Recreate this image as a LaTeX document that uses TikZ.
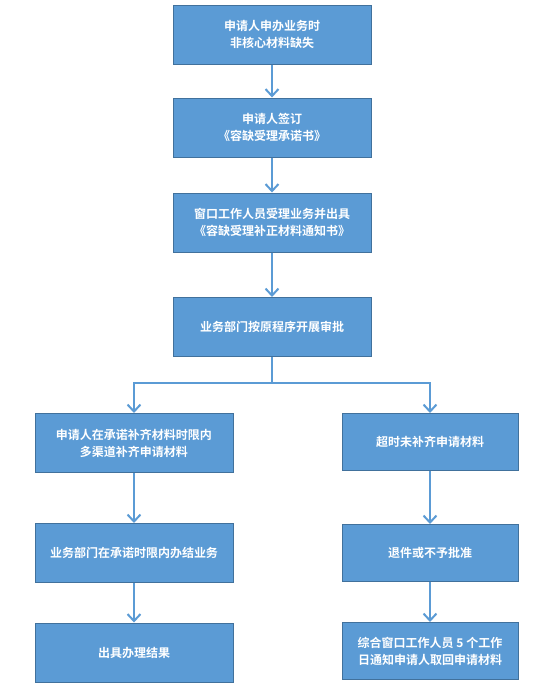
\documentclass[tikz,border=0pt]{standalone}
\usepackage{fontspec}
\setmainfont{Noto Sans CJK SC}[BoldFont={Noto Sans CJK SC Bold}]
\usetikzlibrary{arrows.meta}
\definecolor{boxfill}{HTML}{5B9BD5}
\definecolor{boxline}{HTML}{41719C}
\definecolor{arr}{HTML}{5B9BD5}
\tikzset{
  box/.style={draw=boxline, line width=1pt, fill=boxfill, text=white, font=\fontsize{12}{17}\selectfont\bfseries, align=center, inner sep=0pt},
  wide/.style={box, minimum width=198pt, minimum height=59pt},
  narrow/.style={box, minimum width=176pt, minimum height=57pt},
  link/.style={draw=arr, line width=2.2pt, -{Straight Barb[length=7pt,width=13pt,line width=2pt]}}
}
\begin{document}
\begin{tikzpicture}[x=1pt,y=-1pt]
\useasboundingbox (0,0) rectangle (554,689);
\node[wide] (a) at (272,34.5) {申请人申办业务时\\非核心材料缺失};
\node[wide] (b) at (272,127.5) {申请人签订\\《容缺受理承诺书》};
\node[wide] (c) at (272,222.5) {窗口工作人员受理业务并出具\\《容缺受理补正材料通知书》};
\node[wide] (d) at (272,327) {业务部门按原程序开展审批};
\node[wide] (l1) at (134,443) {申请人在承诺补齐材料时限内\\多渠道补齐申请材料};
\node[wide] (l2) at (134,553) {业务部门在承诺时限内办结业务};
\node[wide] (l3) at (134,652.5) {出具办理结果};
\node[narrow] (r1) at (430,442) {超时未补齐申请材料};
\node[narrow] (r2) at (430,553) {退件或不予批准};
\node[narrow] (r3) at (430,651) {综合窗口工作人员 5 个工作\\日通知申请人取回申请材料};
\coordinate (j) at (272,383);
\draw[link] (a) -- (b);
\draw[link] (b) -- (c);
\draw[link] (c) -- (d);
\draw[link] (d.south) -- (j) -| (l1.north);
\draw[link] (j) -| (r1.north);
\draw[link] (l1) -- (l2);
\draw[link] (l2) -- (l3);
\draw[link] (r1) -- (r2);
\draw[link] (r2) -- (r3);
\end{tikzpicture}
\end{document}
